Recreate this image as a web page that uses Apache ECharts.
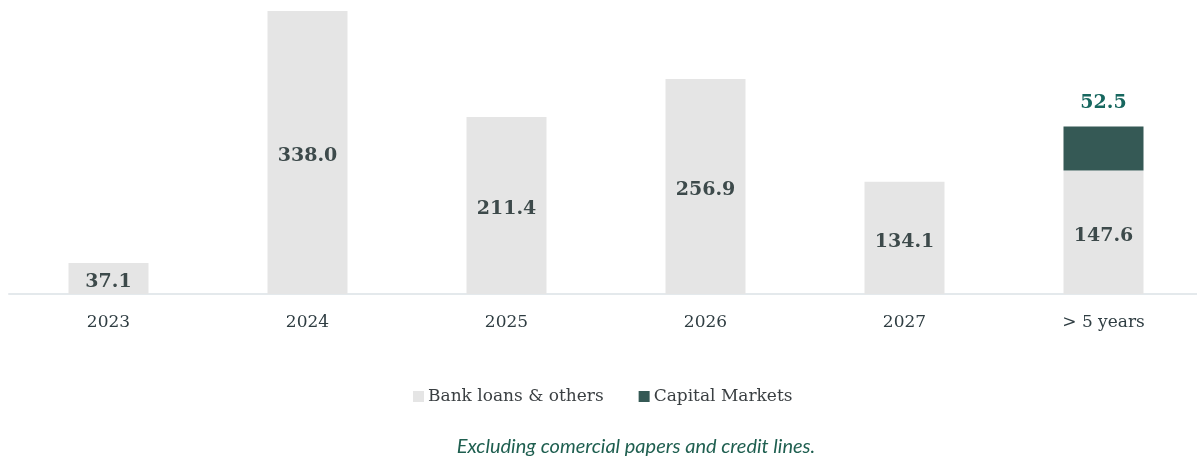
<!DOCTYPE html>
<html>
<head>
<meta charset="utf-8">
<script src="https://cdn.jsdelivr.net/npm/echarts@6/dist/echarts.min.js"></script>
<style>
  html, body { margin: 0; padding: 0; background: #ffffff; }
  #chart { width: 1197px; height: 461px; }
</style>
</head>
<body>
<div id="chart"></div>
<script>
// Debt maturity profile (values in millions)
const categories = ['2023', '2024', '2025', '2026', '2027', '> 5 years'];
const bankLoans = [37.1, 338.0, 211.4, 256.9, 134.1, 147.6];
const capitalMarkets = [null, null, null, null, null, 52.5];
const seriesNames = ['Bank loans & others', 'Capital Markets'];
const footnote = 'Excluding comercial papers and credit lines.';

const serif = '"DejaVu Serif", "Liberation Serif", Georgia, serif';

const chart = echarts.init(document.getElementById('chart'), null, { renderer: 'canvas' });

chart.setOption({
  animation: false,
  backgroundColor: '#ffffff',
  grid: { left: 9, width: 1194, top: 1, height: 293, containLabel: false, outerBoundsMode: 'none' },
  legend: {
    data: seriesNames,
    top: 383,
    left: 408,
    itemWidth: 11,
    itemHeight: 11,
    itemGap: 35,
    icon: 'rect',
    textStyle: { fontFamily: serif, fontSize: 17, color: '#3a3f42', padding: [0, 0, 0, -1] }
  },
  title: {
    text: footnote,
    left: 631,
    textAlign: 'center',
    top: 432,
    textStyle: { fontFamily: '"Lato", "Open Sans", sans-serif', fontStyle: 'italic', fontWeight: 'normal', fontSize: 20, color: '#1f5f50' }
  },
  xAxis: {
    type: 'category',
    data: categories,
    axisLine: { lineStyle: { color: '#e4e9ec', width: 2 } },
    axisTick: { show: false },
    axisLabel: { fontFamily: serif, fontSize: 17, color: '#2f3d42', margin: 20 }
  },
  yAxis: {
    type: 'value',
    min: 0,
    max: 350,
    show: false,
    splitLine: { show: false }
  },
  series: [
    {
      name: seriesNames[0],
      type: 'bar',
      stack: 'total',
      data: bankLoans,
      barWidth: 80,
      itemStyle: { color: '#e5e5e5' },
      label: {
        show: true,
        position: 'inside',
        offset: [0, 4],
        formatter: p => p.value.toFixed(1),
        fontFamily: serif,
        fontWeight: 'bold',
        fontSize: 19,
        color: '#3d4a4b'
      }
    },
    {
      name: seriesNames[1],
      type: 'bar',
      stack: 'total',
      data: capitalMarkets,
      barWidth: 80,
      itemStyle: { color: '#355955' },
      label: {
        show: true,
        position: 'top',
        distance: 14,
        formatter: p => p.value.toFixed(1),
        fontFamily: serif,
        fontWeight: 'bold',
        fontSize: 19,
        color: '#17675f'
      }
    }
  ]
});
</script>
</body>
</html>
